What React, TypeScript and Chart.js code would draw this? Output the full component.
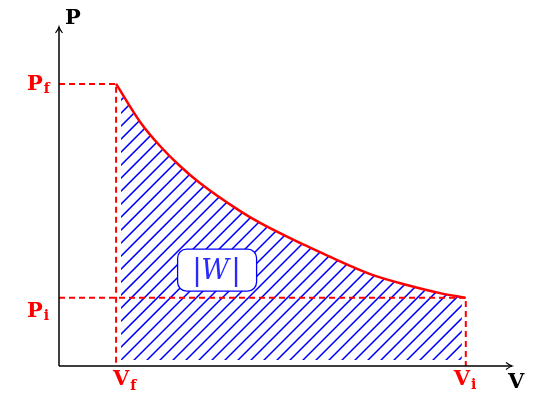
import { useEffect, useRef } from 'react';
import { Chart, registerables } from 'chart.js';
Chart.register(...registerables);

// Curve: volume (x) and pressure (y), arbitrary units
const curveV = [1.26, 1.79, 2.23, 2.67, 3.11, 4.0, 4.44, 5.32, 5.76, 6.38, 6.93, 7.68, 8.41, 8.98];
const curveP = [8.32, 7.2, 6.49, 5.9, 5.4, 4.57, 4.22, 3.63, 3.36, 2.98, 2.68, 2.39, 2.15, 2.01];
const axisMax = [10, 10];
const axisNames = ['V', 'P'];
const finalSub = 'f';
const initialSub = 'i';
const workText = 'W';
const workLabelPos = [3.49, 2.83];

const RED = '#ff0000';
const BLUE = '#0000ff';
const LABEL_FONT = 'bold 21px "DejaVu Serif"';
const SUB_FONT = 'bold 14px "DejaVu Serif"';

export default function App() {
  const ref = useRef<HTMLCanvasElement | null>(null);

  useEffect(() => {
    if (!ref.current) return;
    const n = curveV.length;
    const Vf = curveV[0], Pf = curveP[0];
    const Vi = curveV[n - 1], Pi = curveP[n - 1];

    const hatchPlugin = {
      id: 'hatch',
      beforeDatasetsDraw(chart: any) {
        const ctx = chart.ctx;
        const area = chart.chartArea;
        const xs = chart.scales.x, ys = chart.scales.y;
        const line: any = chart.getDatasetMeta(0).dataset;
        if (!line) return;
        if (line.updateControlPoints) line.updateControlPoints(area, 'x');
        const x0 = xs.getPixelForValue(Vf);
        const x1 = xs.getPixelForValue(Vi);
        const yb = ys.getPixelForValue(0);
        ctx.save();
        ctx.beginPath();
        line.path(ctx);
        ctx.lineTo(x1, yb);
        ctx.lineTo(x0, yb);
        ctx.closePath();
        ctx.clip();
        ctx.beginPath();
        ctx.rect(x0 + 5, area.top, x1 - 4 - (x0 + 5), yb - 6 - area.top);
        ctx.clip();
        ctx.strokeStyle = BLUE;
        ctx.lineWidth = 1.5;
        ctx.beginPath();
        const h = yb - area.top;
        for (let k = x0 - h; k < x1 + 13; k += 13) {
          ctx.moveTo(k, yb);
          ctx.lineTo(k + h, yb - h);
        }
        ctx.stroke();
        ctx.restore();
      },
    };

    const drawSub = (ctx: any, main: string, sub: string, x: number, y: number, color: string, subDy: number) => {
      ctx.fillStyle = color;
      ctx.textAlign = 'left';
      ctx.textBaseline = 'alphabetic';
      ctx.font = LABEL_FONT;
      ctx.fillText(main, x, y);
      const w = ctx.measureText(main).width;
      ctx.font = SUB_FONT;
      ctx.fillText(sub, x + w + 1, y + subDy);
    };

    const overlayPlugin = {
      id: 'overlay',
      afterDatasetsDraw(chart: any) {
        const ctx = chart.ctx;
        const xs = chart.scales.x, ys = chart.scales.y;
        const ox = xs.getPixelForValue(0);
        const oy = ys.getPixelForValue(0);
        const xEnd = xs.getPixelForValue(axisMax[0]);
        const yEnd = ys.getPixelForValue(axisMax[1]);
        ctx.save();
        // axes
        ctx.strokeStyle = '#000';
        ctx.lineWidth = 1.5;
        ctx.beginPath();
        ctx.moveTo(ox, oy);
        ctx.lineTo(ox, yEnd);
        ctx.moveTo(ox, oy);
        ctx.lineTo(xEnd, oy);
        ctx.stroke();
        // arrow heads
        ctx.lineWidth = 1.2;
        ctx.beginPath();
        ctx.moveTo(ox - 3.5, yEnd + 6);
        ctx.quadraticCurveTo(ox - 0.5, yEnd + 2, ox, yEnd);
        ctx.quadraticCurveTo(ox + 0.5, yEnd + 2, ox + 3.5, yEnd + 6);
        ctx.moveTo(xEnd - 6, oy - 3.5);
        ctx.quadraticCurveTo(xEnd - 2, oy - 0.5, xEnd, oy);
        ctx.quadraticCurveTo(xEnd - 2, oy + 0.5, xEnd - 6, oy + 3.5);
        ctx.stroke();

        // axis names
        ctx.fillStyle = '#000';
        ctx.font = LABEL_FONT;
        ctx.textAlign = 'left';
        ctx.textBaseline = 'alphabetic';
        ctx.fillText(axisNames[1], ox + 6, yEnd - 3);
        ctx.fillText(axisNames[0], xEnd - 4, oy + 22);

        // state labels
        const yPf = ys.getPixelForValue(Pf);
        const yPi = ys.getPixelForValue(Pi);
        const xVf = xs.getPixelForValue(Vf);
        const xVi = xs.getPixelForValue(Vi);
        drawSub(ctx, axisNames[1], finalSub, ox - 32, yPf + 6, RED, 3);
        drawSub(ctx, axisNames[1], initialSub, ox - 32, yPi + 19, RED, 3);
        drawSub(ctx, axisNames[0], finalSub, xVf - 3, oy + 19, RED, 5);
        drawSub(ctx, axisNames[0], initialSub, xVi - 12, oy + 19, RED, 4);

        // work label box
        const cx = xs.getPixelForValue(workLabelPos[0]);
        const cy = ys.getPixelForValue(workLabelPos[1]);
        const bw = 79, bh = 42;
        ctx.beginPath();
        if (ctx.roundRect) ctx.roundRect(cx - bw / 2, cy - bh / 2, bw, bh, 9);
        else ctx.rect(cx - bw / 2, cy - bh / 2, bw, bh);
        ctx.fillStyle = '#fff';
        ctx.fill();
        ctx.strokeStyle = BLUE;
        ctx.lineWidth = 1.3;
        ctx.stroke();
        ctx.fillStyle = '#2a2aff';
        ctx.textAlign = 'center';
        ctx.textBaseline = 'alphabetic';
        ctx.font = 'italic 27px "DejaVu Serif"';
        ctx.fillText(workText, cx - 2, cy + 9);
        ctx.font = '30px "DejaVu Serif"';
        ctx.fillText('|', cx - 20, cy + 10);
        ctx.fillText('|', cx + 19, cy + 10);
        ctx.restore();
      },
    };

    const chart = new Chart(ref.current, {
      type: 'scatter',
      data: {
        datasets: [
          {
            data: curveV.map((v, i) => ({ x: v, y: curveP[i] })),
            showLine: true,
            borderColor: RED,
            borderWidth: 2.5,
            pointRadius: 0,
            cubicInterpolationMode: 'monotone',
            fill: false,
          },
          {
            data: [
              { x: 0, y: Pf },
              { x: Vf, y: Pf },
              { x: Vf, y: 0 },
            ],
            showLine: true,
            borderColor: RED,
            borderWidth: 2,
            borderDash: [6, 4],
            pointRadius: 0,
            tension: 0,
          },
          {
            data: [
              { x: 0, y: Pi },
              { x: Vi, y: Pi },
              { x: Vi, y: 0 },
            ],
            showLine: true,
            borderColor: RED,
            borderWidth: 2,
            borderDash: [6, 4],
            pointRadius: 0,
            tension: 0,
          },
        ],
      } as any,
      options: {
        animation: false,
        responsive: false,
        devicePixelRatio: 1,
        layout: { padding: { left: 59, top: 27, right: 24, bottom: 27 } },
        scales: {
          x: { type: 'linear', min: 0, max: axisMax[0], display: false },
          y: { type: 'linear', min: 0, max: axisMax[1], display: false },
        },
        plugins: { legend: { display: false }, tooltip: { enabled: false } },
      } as any,
      plugins: [hatchPlugin, overlayPlugin],
    });
    return () => chart.destroy();
  }, []);

  return (
    <canvas
      ref={ref}
      width={536}
      height={393}
      style={{ position: 'absolute', left: 0, top: 0, width: 536, height: 393, background: '#fff' }}
    />
  );
}
